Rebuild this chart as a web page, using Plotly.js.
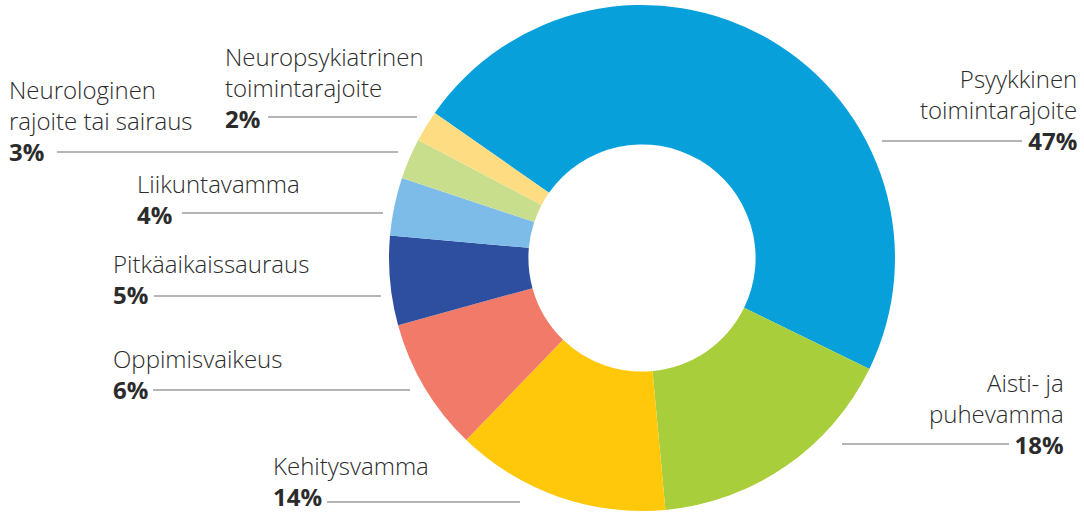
<!DOCTYPE html>
<html>
<head>
<meta charset="utf-8">
<script src="https://cdn.plot.ly/plotly-3.0.1.min.js"></script>
<style>
  html, body { margin: 0; padding: 0; background: #ffffff; }
  #chart { width: 1084px; height: 515px; }
</style>
</head>
<body>
<div id="chart"></div>
<script>
// ---- data ----
const categories = [
  "Psyykkinen toimintarajoite",
  "Aisti- ja puhevamma",
  "Kehitysvamma",
  "Oppimisvaikeus",
  "Pitkäaikaissauraus",
  "Liikuntavamma",
  "Neurologinen rajoite tai sairaus",
  "Neuropsykiatrinen toimintarajoite"
];
// slice sizes as drawn in the picture (degrees of arc converted to %)
const sliceValues = [47.5, 16.3, 13.7, 8.5, 5.7, 3.7, 2.6, 2.0];
// percentages printed on the labels
const percentLabels = ["47%", "18%", "14%", "6%", "5%", "4%", "3%", "2%"];
// label text as it is broken into lines
const labelLines = [
  ["Psyykkinen", "toimintarajoite"],
  ["Aisti- ja", "puhevamma"],
  ["Kehitysvamma"],
  ["Oppimisvaikeus"],
  ["Pitkäaikaissauraus"],
  ["Liikuntavamma"],
  ["Neurologinen", "rajoite tai sairaus"],
  ["Neuropsykiatrinen", "toimintarajoite"]
];
const colors = ["#08a0da", "#a8ce3b", "#ffc80b", "#f27a69", "#2e4fa0", "#7dbce8", "#c8de8c", "#fedc82"];

// ---- layout helpers (pixel geometry of the page) ----
const W = 1084, H = 515;
const cx = 642, cy = 258, R = 253;
const px = x => x / W;
const py = y => 1 - y / H;

// label placement: text anchor x, baseline of last line, side, leader line y and x-range
const labelPos = [
  {x: 1078, base: 149, side: "right", ly: 141, lx0: 882, lx1: 1022},
  {x: 1065, base: 453, side: "right", ly: 444, lx0: 842, lx1: 1009},
  {x: 272,  base: 505, side: "left",  ly: 502, lx0: 327, lx1: 520},
  {x: 112,  base: 398, side: "left",  ly: 390, lx0: 153, lx1: 410},
  {x: 112,  base: 303, side: "left",  ly: 296, lx0: 154, lx1: 381},
  {x: 136,  base: 223, side: "left",  ly: 213, lx0: 182, lx1: 383},
  {x: 8,    base: 160, side: "left",  ly: 152, lx0: 57,  lx1: 398},
  {x: 224,  base: 127, side: "left",  ly: 117, lx0: 268, lx1: 417}
];

const FONT = "Open Sans, Lato, sans-serif";
const FS = 24;
const DESC = 9;

const annotations = categories.map((c, i) => {
  const p = labelPos[i];
  const text = labelLines[i].join("<br>") + "<br><b>" + percentLabels[i] + "</b>";
  return {
    xref: "paper", yref: "paper",
    x: px(p.x), y: py(p.base + DESC),
    xanchor: p.side === "right" ? "right" : "left",
    yanchor: "bottom",
    align: p.side === "right" ? "right" : "left",
    text: text,
    showarrow: false,
    borderpad: 0,
    font: {family: FONT, size: FS, color: "#2b2b2b", weight: 300}
  };
});

const shapes = labelPos.map(p => ({
  type: "line", xref: "paper", yref: "paper",
  x0: px(p.lx0), x1: px(p.lx1), y0: py(p.ly), y1: py(p.ly),
  line: {color: "#9d9d9d", width: 1.5},
  layer: "below"
}));

const trace = {
  type: "pie",
  labels: categories,
  values: sliceValues,
  sort: false,
  direction: "clockwise",
  rotation: 305,
  hole: 0.449,
  textinfo: "none",
  hoverinfo: "label+percent",
  marker: {colors: colors, line: {width: 0}},
  domain: {x: [px(cx - R), px(cx + R)], y: [py(cy + R), py(cy - R)]},
  showlegend: false
};

const layout = {
  width: W, height: H,
  margin: {l: 0, r: 0, t: 0, b: 0},
  paper_bgcolor: "#ffffff",
  showlegend: false,
  annotations: annotations,
  shapes: shapes
};

Plotly.newPlot("chart", [trace], layout, {displayModeBar: false, staticPlot: true});
</script>
</body>
</html>
